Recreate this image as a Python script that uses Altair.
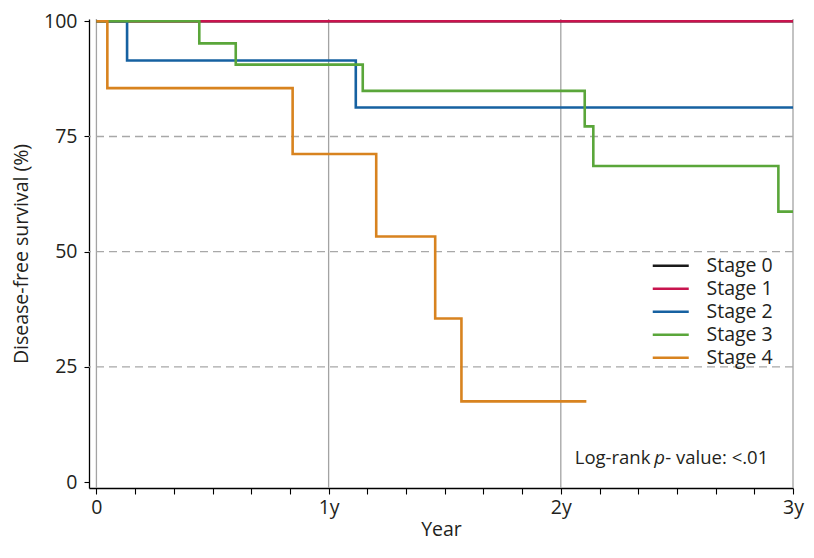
import altair as alt
import pandas as pd

# ---------------- data ----------------
stages = ["Stage 0", "Stage 1", "Stage 2", "Stage 3", "Stage 4"]
colors = ["#1a1a1a", "#c8144e", "#1661a1", "#5aa63a", "#d8831f"]

stage0_t = [0.0, 3.0]
stage0_v = [100, 100]
stage1_t = [0.0, 3.0]
stage1_v = [100, 100]
stage2_t = [0.0, 0.132, 1.117, 3.0]
stage2_v = [100, 91.5, 81.3, 81.3]
stage3_t = [0.0, 0.443, 0.600, 1.147, 2.103, 2.140, 2.937, 3.0]
stage3_v = [100, 95.2, 90.6, 84.9, 77.2, 68.6, 58.7, 58.7]
stage4_t = [0.0, 0.047, 0.845, 1.205, 1.459, 1.572, 2.11]
stage4_v = [100, 85.5, 71.2, 53.3, 35.5, 17.5, 17.5]

year_lines = [0, 1, 2, 3]
dash_levels = [25, 50, 75]
y_ticks = [0, 25, 50, 75, 100]
x_ticks = [i / 6 for i in range(19)]

ann_normal_text = ["Log-rank", "- value: <.01"]
ann_normal_x = [2.060, 2.450]
ann_italic_text = ["p"]
ann_italic_x = [2.402]
ann_y = 4.0

# ---------------- build table ----------------
rows = []
for name, ts, vs in zip(
    stages,
    [stage0_t, stage1_t, stage2_t, stage3_t, stage4_t],
    [stage0_v, stage1_v, stage2_v, stage3_v, stage4_v],
):
    for t, v in zip(ts, vs):
        rows.append({"stage": name, "t": t, "v": v})
df = pd.DataFrame(rows)

FONT = "Open Sans"
TXT = "#231f20"
FS = 19.5
FS_ANN = 18.5

x_scale = alt.Scale(domain=[-0.032, 3.0], nice=False, zero=False)
y_scale = alt.Scale(domain=[-1.3, 100.5], nice=False, zero=False)

label_expr = (
    "datum.value == 0 ? '0' : "
    "(abs(datum.value - round(datum.value)) < 0.001 ? round(datum.value) + 'y' : '')"
)

x_axis = alt.Axis(
    values=x_ticks, labelExpr=label_expr, title="Year", grid=False,
    domainColor="#000", domainWidth=1.3, tickColor="#000", tickWidth=1.1, tickSize=6,
    labelFont=FONT, labelFontSize=FS, labelColor=TXT, labelPadding=4,
    labelFlush=False, labelOverlap=False,
    titleFont=FONT, titleFontSize=FS, titleFontWeight="normal", titleColor=TXT,
    titlePadding=4,
)
y_axis = alt.Axis(
    values=y_ticks, title="Disease-free survival (%)", grid=False,
    domainColor="#000", domainWidth=1.3, tickColor="#000", tickWidth=1.1, tickSize=5,
    labelFont=FONT, labelFontSize=FS, labelColor=TXT, labelPadding=7,
    titleFont=FONT, titleFontSize=FS, titleFontWeight="normal", titleColor=TXT,
    titlePadding=12,
)

X = lambda f: alt.X(f, scale=x_scale, axis=x_axis)
Y = lambda f: alt.Y(f, scale=y_scale, axis=y_axis)

vgrid = alt.Chart(pd.DataFrame({"t": year_lines})).mark_rule(
    color="#a3a3a3", strokeWidth=1.3
).encode(x=X("t:Q"))

hgrid = alt.Chart(pd.DataFrame({"v": dash_levels})).mark_rule(
    color="#a8a8a8", strokeWidth=1.3, strokeDash=[8, 5]
).encode(y=Y("v:Q"))

lines = alt.Chart(df).mark_line(interpolate="step-after", strokeWidth=2.6).encode(
    x=X("t:Q"),
    y=Y("v:Q"),
    color=alt.Color(
        "stage:N",
        scale=alt.Scale(domain=stages, range=colors),
        legend=alt.Legend(
            title=None, orient="none", legendX=572, legendY=237,
            symbolType="M-3,0H3", symbolSize=144, symbolStrokeWidth=2.6,
            labelFont=FONT, labelFontSize=FS, labelColor=TXT,
            labelOffset=26, rowPadding=2, padding=0,
        ),
    ),
    detail="stage:N",
)

ann1 = alt.Chart(pd.DataFrame({"x": ann_normal_x, "y": [ann_y] * 2, "txt": ann_normal_text})).mark_text(
    align="left", baseline="alphabetic", font=FONT, fontSize=FS_ANN, color=TXT
).encode(x=X("x:Q"), y=Y("y:Q"), text="txt:N")

ann2 = alt.Chart(pd.DataFrame({"x": ann_italic_x, "y": [ann_y], "txt": ann_italic_text})).mark_text(
    align="left", baseline="alphabetic", font=FONT, fontSize=FS_ANN, fontStyle="italic", color=TXT
).encode(x=X("x:Q"), y=Y("y:Q"), text="txt:N")

chart = alt.layer(vgrid, hgrid, lines, ann1, ann2).properties(
    width=704, height=469,
    autosize=alt.AutoSizeParams(type="none"),
    padding={"left": 81, "top": 11, "right": 13, "bottom": 62},
).configure_view(stroke=None)

chart.save("out.html", embed_options={"renderer": "svg", "actions": False})
